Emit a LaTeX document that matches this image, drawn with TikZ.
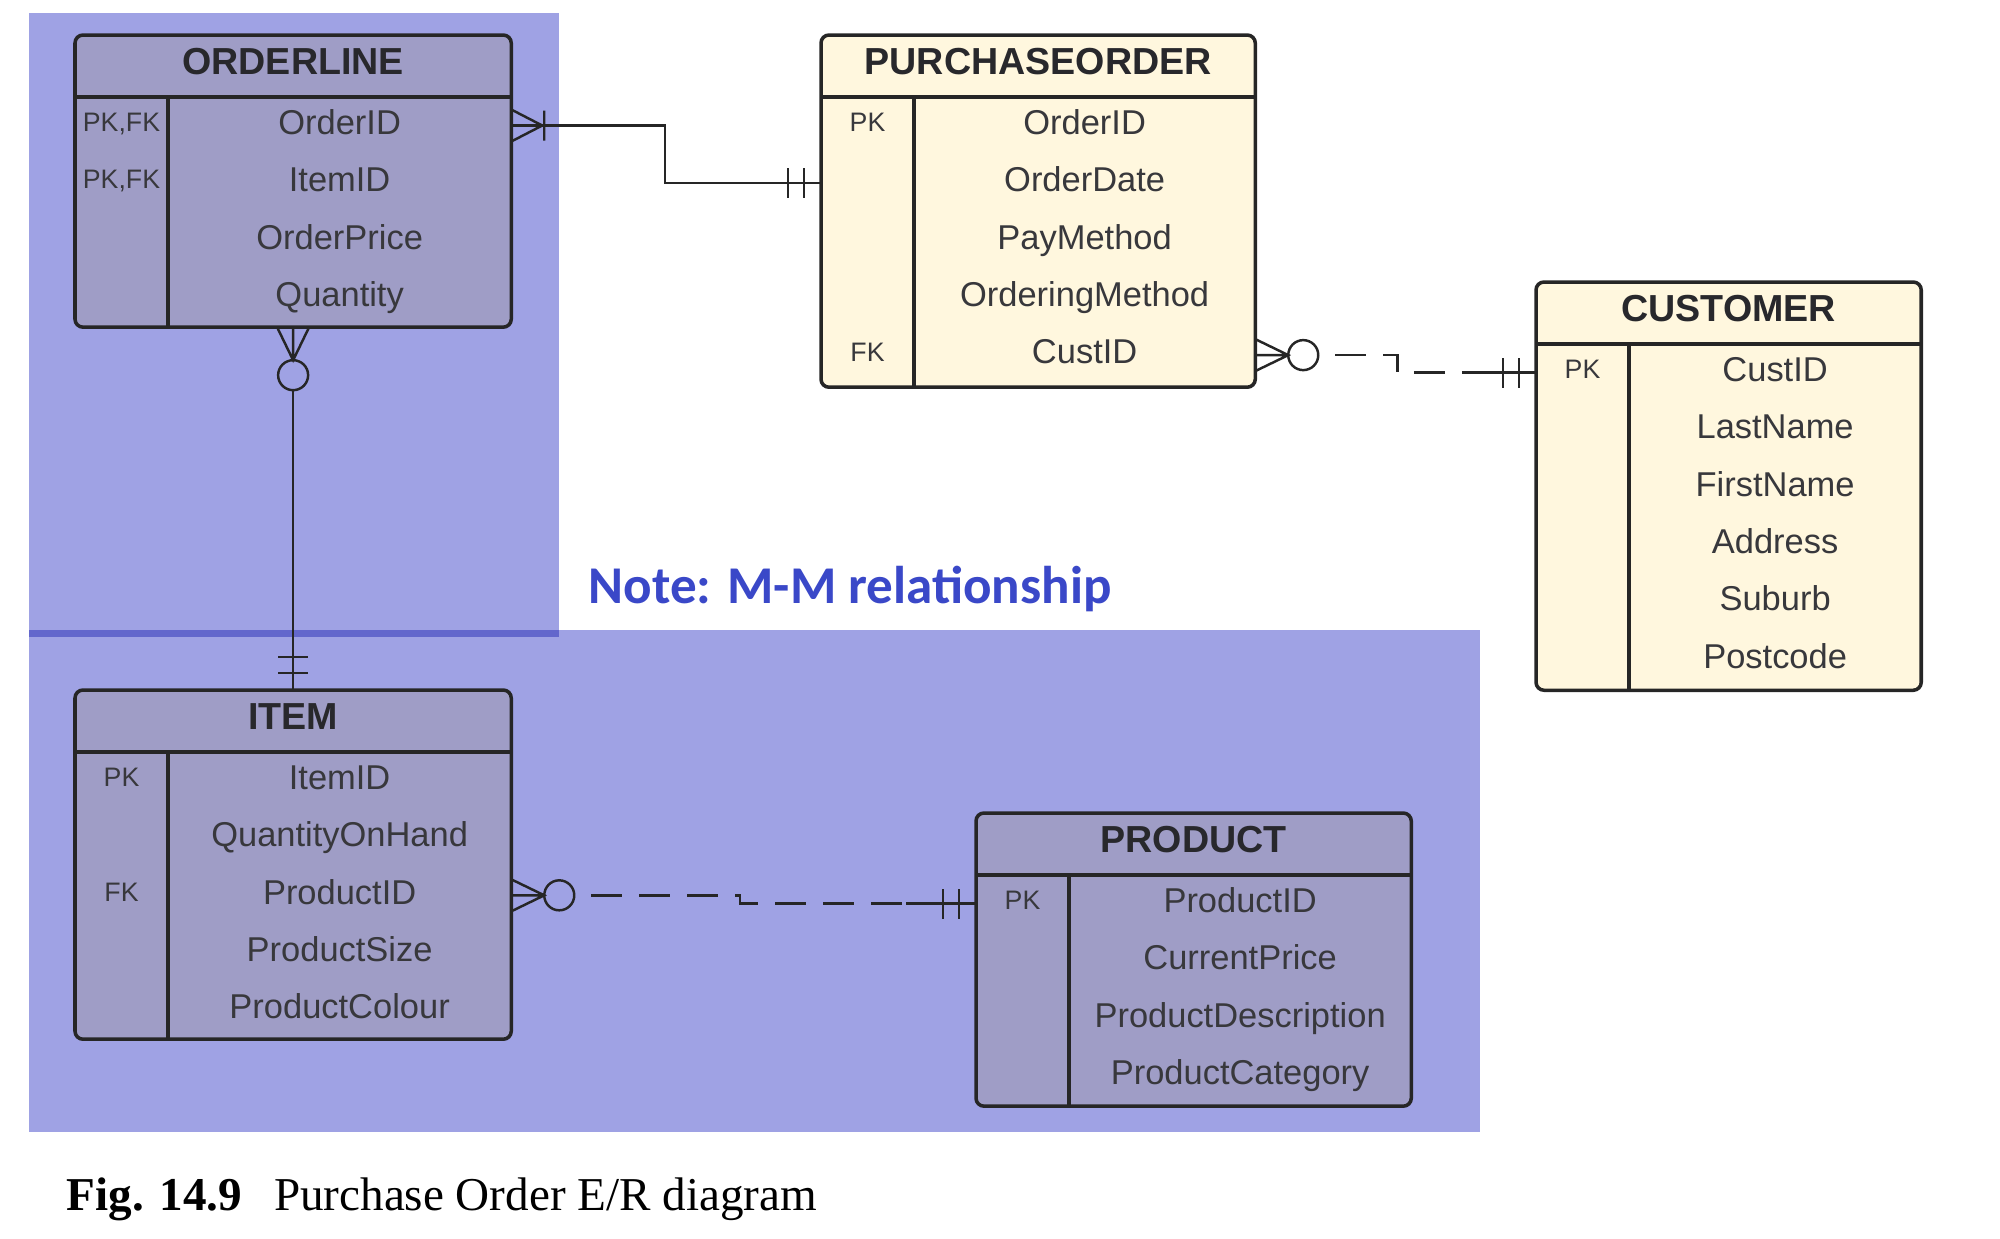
\documentclass[tikz,border=0pt]{standalone}
\usepackage{fontspec}
\setmainfont{Liberation Sans}
\newfontfamily\capfont{Liberation Serif}
\newfontfamily\notefont{Carlito}
\usetikzlibrary{calc}

\definecolor{bgblue}{RGB}{159,162,228}
\definecolor{bgover}{RGB}{99,103,204}
\definecolor{cream}{RGB}{255,247,222}
\definecolor{bluecream}{RGB}{159,157,198}
\definecolor{notefg}{RGB}{58,72,200}
\definecolor{titlegray}{RGB}{40,40,44}
\definecolor{attrgray}{RGB}{56,56,60}

\tikzset{
  tablebox/.style={draw=black!85, line width=1pt, rounded corners=0.08cm, inner sep=0, outer sep=0},
  tableline/.style={draw=black!85, line width=1pt},
  titletext/.style={font=\fontsize{10.7}{12}\selectfont\bfseries, text=titlegray, inner sep=0, text height=0.27cm, text depth=0cm},
  attrtext/.style={font=\fontsize{9.8}{11}\selectfont, text=attrgray, inner sep=0, text height=0.246cm, text depth=0.07cm},
  keytext/.style={font=\fontsize{7.6}{9}\selectfont, text=attrgray, inner sep=0, text height=0.19cm, text depth=0.07cm},
  rel/.style={draw=black!85, line width=0.7pt},
  reldash/.style={rel, dash pattern=on 0.31cm off 0.17cm, dash phase=0.31cm},
  notetext/.style={font=\notefont\fontsize{15.1}{17}\selectfont\bfseries, text=notefg, inner sep=0},
  captext/.style={font=\capfont\fontsize{13.4}{15}\selectfont, text=black, inner sep=0}
}

\def\ertable[#1](#2)(#3,#4)(#5:#6)#7{%
  \node[tablebox, fill=#1, minimum width=#5, minimum height=#6, anchor=north west] (#2) at (#3,#4) {};
  \draw[tableline] ($(#2.north west)+(0,62)$) -- ($(#2.north east)+(0,62)$);
  \draw[tableline] ($(#2.north west)+(93,62)$) -- ($(#2.south west)+(93,0)$);
  \node[titletext] (#2-title) at ($(#2.north)+(0,26)$) {#7};
}
\def\errows(#1)#2{%
  \foreach \k/\a [count=\i] in {#2} {
    \node[keytext] (#1-k\i) at ($(#1.north west)+(46.5,90.5+57.4*\i-57.4)$) {\k};
    \node[attrtext] (#1-a\i) at ($(#1.north)+(46.5,90.5+57.4*\i-57.4)$) {\a};
  }}
\def\zeromany(#1:#2){\begin{scope}[shift={(#1)},rotate=#2]
  \draw[rel] (0,-16) -- (33,0) -- (0,16) (0,0) -- (33,0) (48,0) circle (15);
\end{scope}}
\def\onemany(#1:#2){\begin{scope}[shift={(#1)},rotate=#2]
  \draw[rel] (0,-16) -- (31,0) -- (0,16) (0,0) -- (33,0) (33,-15) -- (33,15);
\end{scope}}
\def\onlyone(#1:#2){\begin{scope}[shift={(#1)},rotate=#2]
  \draw[rel] (0,0) -- (33,0) (17,-15) -- (17,15) (33,-15) -- (33,15);
\end{scope}}

\begin{document}
\begin{tikzpicture}[x=0.01cm,y=-0.01cm]
		%%%%% START %%%%%
		\useasboundingbox (0,0) rectangle (2000,1238);
		
		\fill[bgblue] (29,13) rectangle (559,637);
		\fill[bgblue] (29,630) rectangle (1480,1132);
		\fill[bgover] (29,630) rectangle (559,637);
		
		\ertable[bluecream](orderline)(75,35)(4.36cm:2.92cm){ORDERLINE}
		\errows(orderline){{PK,FK}/OrderID,{PK,FK}/ItemID,/OrderPrice,/Quantity}
		
		\ertable[cream](purchaseorder)(821,35)(4.34cm:3.52cm){PURCHASEORDER}
		\errows(purchaseorder){PK/OrderID,/OrderDate,/PayMethod,/OrderingMethod,FK/CustID}
		
		\ertable[cream](customer)(1536,282)(3.85cm:4.08cm){CUSTOMER}
		\errows(customer){PK/CustID,/LastName,/FirstName,/Address,/Suburb,/Postcode}
		
		\ertable[bluecream](item)(75,690)(4.36cm:3.49cm){ITEM}
		\errows(item){PK/ItemID,/QuantityOnHand,FK/ProductID,/ProductSize,/ProductColour}
		
		\ertable[bluecream](product)(976,813)(4.35cm:2.93cm){PRODUCT}
		\errows(product){PK/ProductID,/CurrentPrice,/ProductDescription,/ProductCategory}
		
		\draw[rel] (orderline.east |- orderline-a1) -- ++(154,0) |- (purchaseorder.west |- purchaseorder-a2);
		\onemany(orderline.east |- orderline-a1:0)
		\onlyone(purchaseorder.west |- purchaseorder-a2:180)
		
		\draw[rel] ($(orderline.south)+(0,63)$) -- (item.north);
		\zeromany(orderline.south:-90)
		\onlyone(item.north:90)
		
		\draw[reldash] ($(purchaseorder.east |- purchaseorder-a5)+(63,0)$) -- ++(79,0) |- (customer.west |- customer-a1);
		\draw[rel] ($(customer.west |- customer-a1)+(-70,0)$) -- (customer.west |- customer-a1);
		\zeromany(purchaseorder.east |- purchaseorder-a5:0)
		\onlyone(customer.west |- customer-a1:180)
		
		\draw[reldash] ($(item.east |- item-a3)+(63,0)$) -- ++(166,0) |- (product.west |- product-a1);
		\draw[rel] ($(product.west |- product-a1)+(-70,0)$) -- (product.west |- product-a1);
		\zeromany(item.east |- item-a3:0)
		\onlyone(product.west |- product-a1:180)
		
		\node[notetext, anchor=base west] (note) at (588,603) {Note: M-M relationship};
		\node[captext, anchor=base west] (caption) at (66,1210) {\textbf{Fig. 14.9}\hspace{0.32cm}Purchase Order E/R diagram};
		
		%%%%% END %%%%%
\end{tikzpicture}
\end{document}
